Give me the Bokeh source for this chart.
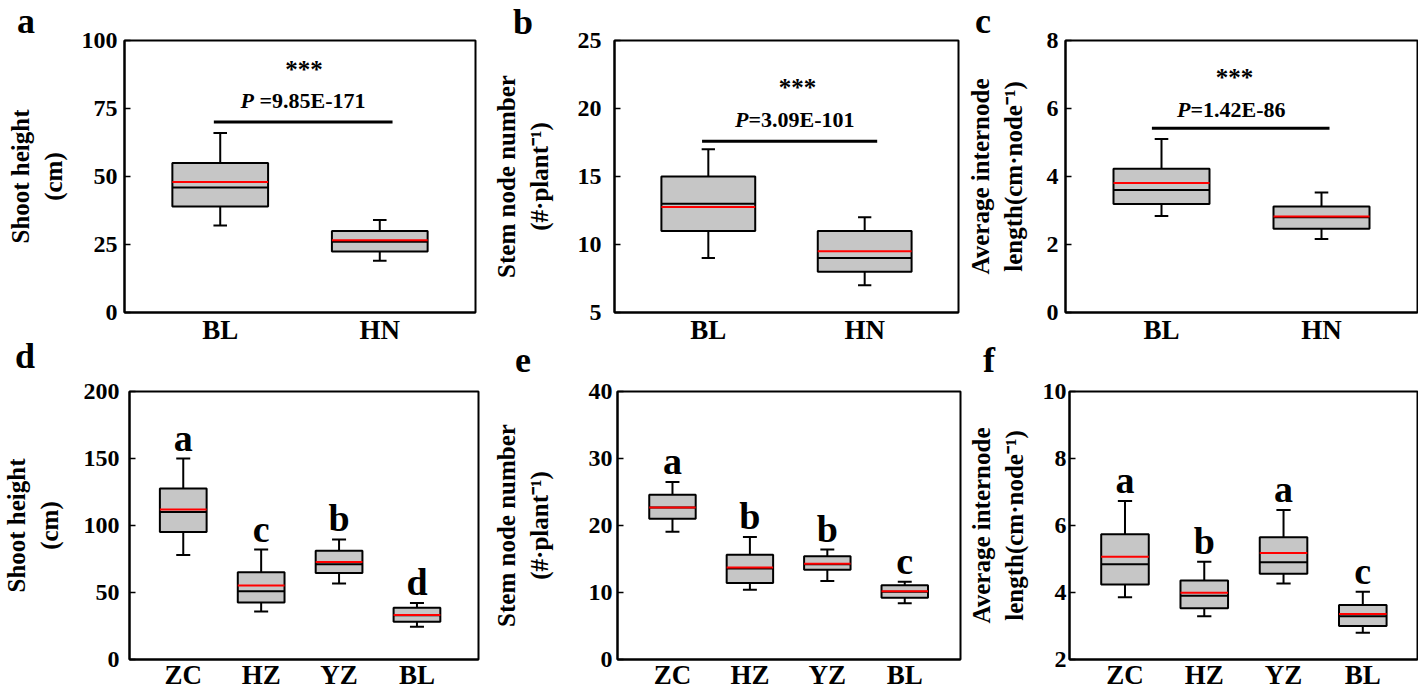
import numpy as np
from bokeh.plotting import figure
from bokeh.models import FixedTicker, Range1d, Label, ColumnDataSource, Div
from bokeh.layouts import row, column
from bokeh.embed import file_html
from bokeh.resources import INLINE

FONT = "Liberation Serif"

# ---------------- data ----------------
top_cats = ["BL", "HN"]
bot_cats = ["ZC", "HZ", "YZ", "BL"]
panel_letters = ["a", "b", "c", "d", "e", "f"]

# panel a: shoot height (cm)
a_whisker_hi = [66, 34]
a_q3 = [55, 30]
a_mean = [48, 26.6]
a_median = [46, 26]
a_q1 = [39, 22.4]
a_whisker_lo = [32, 19]
a_yticks = [0, 25, 50, 75, 100]
a_sig = {"y_line": 70, "x0": 0.96, "x1": 2.08, "y_star": 86.1, "y_p": 75.3, "p": "\u00a0=9.85E-171"}

# panel b: stem node number
b_whisker_hi = [17, 12]
b_q3 = [15, 11]
b_mean = [12.75, 9.5]
b_median = [13, 9]
b_q1 = [11, 8]
b_whisker_lo = [9, 7]
b_yticks = [5, 10, 15, 20, 25]
b_sig = {"y_line": 17.6, "x0": 0.96, "x1": 2.08, "y_star": 20.9, "y_p": 18.7, "p": "=3.09E-101"}

# panel c: average internode length
c_whisker_hi = [5.1, 3.53]
c_q3 = [4.23, 3.12]
c_mean = [3.81, 2.82]
c_median = [3.6, 2.8]
c_q1 = [3.19, 2.46]
c_whisker_lo = [2.84, 2.16]
c_yticks = [0, 2, 4, 6, 8]
c_sig = {"y_line": 5.42, "x0": 0.94, "x1": 2.05, "y_star": 6.64, "y_p": 5.76, "p": "=1.42E-86"}

# panel d: shoot height (cm)
d_whisker_hi = [150, 82, 89.6, 42.2]
d_q3 = [127.7, 65.2, 81.1, 38.6]
d_mean = [112, 55.2, 72.8, 33.2]
d_median = [110, 51, 71.1, 33]
d_q1 = [95.2, 42.5, 64.5, 28.1]
d_whisker_lo = [78, 35.9, 56.7, 24.4]
d_letters = ["a", "c", "b", "d"]
d_yticks = [0, 50, 100, 150, 200]

# panel e: stem node number
e_whisker_hi = [26.5, 18.3, 16.4, 11.6]
e_q3 = [24.6, 15.65, 15.4, 11.1]
e_mean = [22.7, 13.75, 14.3, 10.2]
e_median = [22.7, 13.6, 14.2, 10.1]
e_q1 = [21.0, 11.4, 13.4, 9.2]
e_whisker_lo = [19.05, 10.4, 11.7, 8.4]
e_letters = ["a", "b", "b", "c"]
e_yticks = [0, 10, 20, 30, 40]

# panel f: average internode length
f_whisker_hi = [6.73, 4.92, 6.46, 4.02]
f_q3 = [5.74, 4.36, 5.65, 3.63]
f_mean = [5.07, 3.99, 5.18, 3.36]
f_median = [4.84, 3.9, 4.9, 3.29]
f_q1 = [4.24, 3.53, 4.56, 3.0]
f_whisker_lo = [3.86, 3.29, 4.27, 2.8]
f_letters = ["a", "b", "a", "c"]
f_yticks = [2, 4, 6, 8, 10]

LBL_SH = "Shoot height\n(cm)"
LBL_SN = "Stem node number\n(#\u00b7plant\u207b\u00b9)"
LBL_AI = "Average internode\nlength(cm\u00b7node\u207b\u00b9)"


def panel(cats, whi, q3, mean, med, q1, wlo, yticks, yr, xr, ylabel,
          W, H, L, R, T, B, tick_sd, lab_sd, cap_w,
          box_w=0.6, xlab_sd=2):
    p = figure(width=W, height=H, x_range=Range1d(*xr), y_range=Range1d(*yr),
               output_backend="svg", toolbar_location=None, tools="",
               min_border_left=L, min_border_right=R,
               min_border_top=T, min_border_bottom=B)
    p.background_fill_color = "white"
    p.border_fill_color = "white"
    p.outline_line_color = "black"
    p.outline_line_width = 2
    p.xgrid.visible = False
    p.ygrid.visible = False

    x = np.arange(1, len(cats) + 1)
    src = ColumnDataSource(dict(
        x=x, whi=whi, q3=q3, mean=mean, med=med, q1=q1, wlo=wlo,
        left=x - box_w / 2, right=x + box_w / 2,
        cl=x - cap_w / 2, cr=x + cap_w / 2))
    lk = dict(source=src, line_color="black", line_width=2)
    p.segment("x", "q3", "x", "whi", **lk)
    p.segment("x", "wlo", "x", "q1", **lk)
    p.segment("cl", "whi", "cr", "whi", **lk)
    p.segment("cl", "wlo", "cr", "wlo", **lk)
    p.vbar(x="x", width=box_w, top="q3", bottom="q1", source=src,
           fill_color="#c6c6c6", line_color="black", line_width=2)
    p.segment("left", "med", "right", "med", **lk)
    p.segment("left", "mean", "right", "mean", source=src,
              line_color="#ff0000", line_width=2)

    yax = p.yaxis[0]
    yax.ticker = FixedTicker(ticks=yticks)
    yax.major_tick_in = 6
    yax.major_tick_out = 0
    yax.major_tick_line_width = 1.5
    yax.minor_tick_line_color = None
    yax.axis_line_width = 2
    yax.major_label_text_font = FONT
    yax.major_label_text_font_size = "24px"
    yax.major_label_text_font_style = "bold"
    yax.major_label_text_color = "black"
    yax.major_label_standoff = tick_sd
    yax.axis_label = ylabel
    yax.axis_label_text_font = FONT
    yax.axis_label_text_font_size = "25px"
    yax.axis_label_text_font_style = "bold"
    yax.axis_label_text_color = "black"
    yax.axis_label_standoff = lab_sd

    xax = p.xaxis[0]
    xax.ticker = FixedTicker(ticks=[int(v) for v in x])
    xax.major_label_overrides = {int(v): c for v, c in zip(x, cats)}
    xax.major_tick_line_color = None
    xax.major_tick_in = 0
    xax.major_tick_out = 0
    xax.minor_tick_line_color = None
    xax.axis_line_width = 2
    xax.major_label_text_font = FONT
    xax.major_label_text_font_size = "27px"
    xax.major_label_text_font_style = "bold"
    xax.major_label_text_color = "black"
    xax.major_label_standoff = xlab_sd
    return p, x


def add_sig(p, sig, star_dx, p_dx):
    src = ColumnDataSource(dict(x0=[sig["x0"]], x1=[sig["x1"]], y=[sig["y_line"]]))
    p.segment("x0", "y", "x1", "y", source=src, line_color="black", line_width=3)
    common = dict(text_font=FONT, text_color="black", text_baseline="alphabetic")
    p.add_layout(Label(x=1.5, y=sig["y_star"], x_offset=star_dx, y_offset=9, text="***",
                       text_font_size="25px", text_font_style="bold",
                       text_align="center", **common))
    p.add_layout(Label(x=1.5, y=sig["y_p"], x_offset=p_dx, y_offset=7, text="P",
                       text_font_size="22px", text_font_style="bold italic",
                       text_align="right", **common))
    p.add_layout(Label(x=1.5, y=sig["y_p"], x_offset=p_dx, y_offset=7, text=sig["p"],
                       text_font_size="22px", text_font_style="bold",
                       text_align="left", **common))


def add_letters(p, x, whi, letters):
    for xi, yi, t in zip(x, whi, letters):
        p.add_layout(Label(x=float(xi), y=yi, y_offset=21, text=t,
                           text_font=FONT, text_font_size="38px",
                           text_font_style="bold", text_color="black",
                           text_align="center", text_baseline="alphabetic"))


TH, TT, TB = 347, 40, 34
BH, BT, BB = 345, 44, 32

pa, xa = panel(top_cats, a_whisker_hi, a_q3, a_mean, a_median, a_q1, a_whisker_lo,
               a_yticks, (0, 100), (0.4, 2.6), LBL_SH,
               490, TH, 124, 15, TT, TB, 7, 12, 0.085)
add_sig(pa, a_sig, 4, -46)

pb, xb = panel(top_cats, b_whisker_hi, b_q3, b_mean, b_median, b_q1, b_whisker_lo,
               b_yticks, (5, 25), (0.4, 2.6), LBL_SN,
               472, TH, 117, 4, TT, TB, 13, 22, 0.085)
add_sig(pb, b_sig, 11, -38)

pc, xc = panel(top_cats, c_whisker_hi, c_q3, c_mean, c_median, c_q1, c_whisker_lo,
               c_yticks, (0, 8), (0.4, 2.6), LBL_AI,
               456, TH, 103, 1, TT, TB, 7, 17, 0.085)
add_sig(pc, c_sig, -7, -51)

pd, xd = panel(bot_cats, d_whisker_hi, d_q3, d_mean, d_median, d_q1, d_whisker_lo,
               d_yticks, (0, 200), (0.31, 4.79), LBL_SH,
               490, BH, 121, 12, BT, BB, 10, 18, 0.18, xlab_sd=0)
add_letters(pd, xd, d_whisker_hi, d_letters)

pe, xe = panel(bot_cats, e_whisker_hi, e_q3, e_mean, e_median, e_q1, e_whisker_lo,
               e_yticks, (0, 40), (0.29, 4.72), LBL_SN,
               472, BH, 116, 2, BT, BB, 5, 33, 0.18, xlab_sd=0)
add_letters(pe, xe, e_whisker_hi, e_letters)

pf, xf = panel(bot_cats, f_whisker_hi, f_q3, f_mean, f_median, f_q1, f_whisker_lo,
               f_yticks, (2, 10), (0.30, 4.69), LBL_AI,
               456, BH, 107, 1, BT, BB, 3, 12, 0.18, xlab_sd=0)
add_letters(pf, xf, f_whisker_hi, f_letters)

# panel letters (a-f) as absolutely positioned text, relative to the layout's top-left
letter_pos = [(17, 11), (513, 12), (975, 11), (15, 346), (515, 350), (983, 350)]
letter_divs = []
for t, (lx, ty) in zip(panel_letters, letter_pos):
    letter_divs.append(Div(text=t, styles={
        "position": "absolute", "left": f"{lx}px", "top": f"{ty}px",
        "font-family": FONT, "font-size": "36px", "font-weight": "bold",
        "line-height": "20px", "color": "black", "z-index": "10",
        "margin": "0", "padding": "0"}))

layout = column(row(pa, pb, pc), row(pd, pe, pf), *letter_divs)

with open("out.html", "w") as fh:
    fh.write(file_html(layout, INLINE))
